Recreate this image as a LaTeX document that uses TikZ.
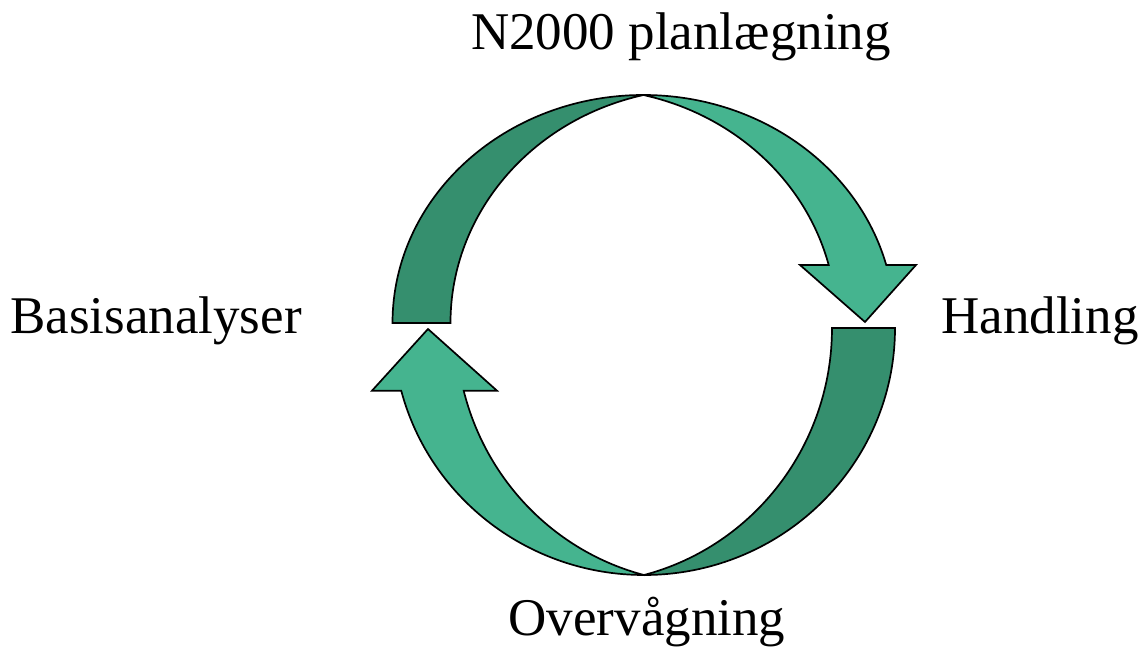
\documentclass[tikz,border=0pt]{standalone}
\usepackage{fontspec}
\setmainfont{Liberation Serif}
\definecolor{darkband}{HTML}{358F6E}
\definecolor{lightband}{HTML}{45B48F}
\tikzset{
  band/.style={draw=black, line width=1.7pt, line join=miter},
  lbl/.style={font=\fontsize{53}{60}\selectfont, inner sep=0pt, anchor=base}
}
\begin{document}
\begin{tikzpicture}[x=1pt,y=1pt]
\useasboundingbox (0,0) rectangle (1146,649);
% top arrow: dark back band
\draw[band, fill=darkband] (392.5,326)
  arc[start angle=180, end angle=90, x radius=251, y radius=228]
  arc[start angle=103.36, end angle=180, x radius=251, y radius=234.3]
  -- cycle;
% top arrow: light front band with head
\draw[band, fill=lightband] (643.5,554)
  arc[start angle=90, end angle=14.74, x radius=251, y radius=228]
  -- (916,384) -- (865,327) -- (800,384) -- (828.7,384)
  arc[start angle=14.33, end angle=76.64, x radius=251, y radius=234.3]
  -- cycle;
% bottom arrow: dark back band
\draw[band, fill=darkband] (895,321)
  arc[start angle=0, end angle=-90, x radius=251, y radius=247]
  arc[start angle=-75.46, end angle=0, x radius=251, y radius=255.2]
  -- cycle;
% bottom arrow: light front band with head
\draw[band, fill=lightband] (644,74)
  arc[start angle=-90, end angle=-165.3, x radius=251, y radius=247]
  -- (372,258.3) -- (428,320) -- (497,258.3) -- (463.7,258.3)
  arc[start angle=-165.78, end angle=-104.54, x radius=251, y radius=255.2]
  -- cycle;
% labels
\node[lbl] (plan) at (681,599) {N2000 planlægning};
\node[lbl] (basis) at (156,316) {Basisanalyser};
\node[lbl] (hand) at (1040,316) {Handling};
\node[lbl] (overv) at (647,14) {Overvågning};
\end{tikzpicture}
\end{document}
